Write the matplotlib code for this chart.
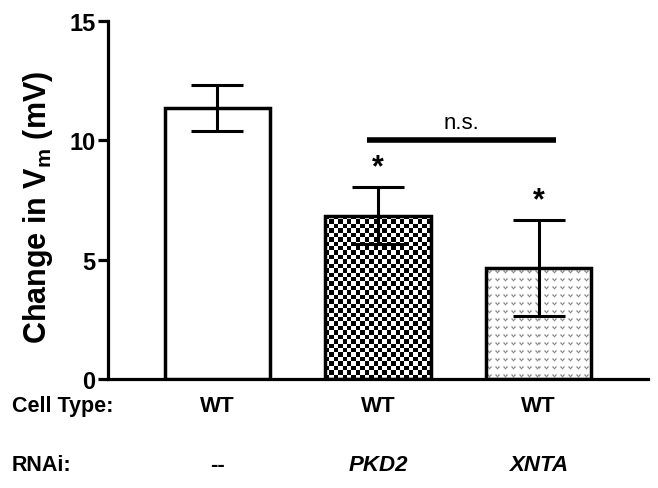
import numpy as np
import matplotlib
matplotlib.use("Agg")
import matplotlib.pyplot as plt
from matplotlib.transforms import blended_transform_factory

plt.rcParams['font.family'] = ['Liberation Sans', 'DejaVu Sans']
plt.rcParams['mathtext.fontset'] = 'custom'
plt.rcParams['mathtext.rm'] = 'Liberation Sans'
plt.rcParams['mathtext.bf'] = 'Liberation Sans:bold'
plt.rcParams['mathtext.it'] = 'Liberation Sans:italic'

# ---- data ----
cell_types = ["WT", "WT", "WT"]
rnai = ["--", "PKD2", "XNTA"]
means = [11.35, 6.85, 4.65]
errors = [0.97, 1.2, 2.02]
yticks = [0, 5, 10, 15]
sig_star = [False, True, True]
ns_pair = (1, 2)
ns_level = 10.0
fills = ['white', 'checker', 'dots']

W, H = 658, 489
fig = plt.figure(figsize=(W / 100, H / 100), dpi=100)
ax = fig.add_axes([108 / W, 1 - 380 / H, (648 - 108) / W, (380 - 22) / H])

x = np.arange(len(means))
ax.set_xlim(-0.68, 2.68)
ax.set_ylim(0, 15)

bars = ax.bar(x, means, width=0.655,
              color=['white' if f == 'white' else 'none' for f in fills],
              edgecolor='black', linewidth=2.5, zorder=3)
ax.errorbar(x, means, yerr=errors, fmt='none', ecolor='black', elinewidth=2.2,
            capsize=19, capthick=2.2, zorder=4)

fig.canvas.draw()


def pattern_fill(patch, kind):
    x0, y0 = patch.get_x(), patch.get_y()
    w, h = patch.get_width(), patch.get_height()
    p0 = ax.transData.transform((x0, y0))
    p1 = ax.transData.transform((x0 + w, y0 + h))
    wpx = int(round(abs(p1[0] - p0[0])))
    hpx = int(round(abs(p1[1] - p0[1])))
    if kind == 'checker':
        cell = 4.4
        nx = max(1, int(round(wpx / cell)))
        ny = max(1, int(round(hpx / cell)))
        jj, ii = np.meshgrid(np.arange(nx), np.arange(ny))
        img = ((ii + jj) % 2).astype(float)  # 1 = white
    else:
        tile = np.array([
            [0, 0, 0, 0, 0, 0, 0, 0],
            [0, 0, 0, 0, 0, 0, 0, 0],
            [0, 1, 1, 0, 1, 1, 0, 0],
            [0, 1, 2, 1, 2, 1, 0, 0],
            [0, 0, 1, 2, 1, 0, 0, 0],
            [0, 0, 0, 1, 0, 0, 0, 0],
            [0, 0, 0, 0, 0, 0, 0, 0],
            [0, 0, 0, 0, 0, 0, 0, 0],
        ], dtype=float)
        reps_y = hpx // 8 + 1
        reps_x = wpx // 8 + 1
        big = np.tile(tile, (reps_y, reps_x))[:hpx, :wpx]
        img = 1.0 - 0.22 * big
    im = ax.imshow(img, cmap='gray', vmin=0, vmax=1, interpolation='nearest',
                   extent=(x0, x0 + w, y0, y0 + h), origin='upper',
                   aspect='auto', zorder=2.5)
    im.set_clip_path(patch)


for b, f in zip(bars, fills):
    if f != 'white':
        pattern_fill(b, f)
ax.set_xlim(-0.68, 2.68)
ax.set_ylim(0, 15)

# significance markers
for xi, m, e, s in zip(x, means, errors, sig_star):
    if s:
        ax.text(xi, m + e + 0.2, "*", ha='center', va='bottom',
                fontsize=22, fontweight='bold', zorder=5)

ax.plot([ns_pair[0] - 0.07, ns_pair[1] + 0.11], [ns_level, ns_level],
        color='black', lw=4, solid_capstyle='butt', zorder=5)
ax.text((ns_pair[0] + ns_pair[1]) / 2 + 0.02, ns_level + 0.3, "n.s.",
        ha='center', va='bottom', fontsize=16, zorder=5)

# axes styling
for sp in ['top', 'right']:
    ax.spines[sp].set_visible(False)
ax.spines['left'].set_linewidth(2.3)
ax.spines['bottom'].set_linewidth(2.3)
ax.set_yticks(yticks)
ax.set_yticklabels([str(t) for t in yticks], fontsize=17, fontweight='bold')
ax.tick_params(axis='y', length=7, width=2.3, pad=2)
ax.set_xticks([])
ax.set_ylabel(r"Change in V$_\mathbf{m}$ (mV)", fontsize=22, fontweight='bold',
              va='center')
ax.yaxis.set_label_coords(-(108 - 38) / (648 - 108), (380 - 207) / (380 - 22))

# category rows under axis
tr = blended_transform_factory(ax.transData, fig.transFigure)
row1_y = 1 - 407 / H
row2_y = 1 - 466 / H
fig.text(12 / W, row1_y, "Cell Type:", ha='left', va='center', fontsize=15.5,
         fontweight='bold')
fig.text(12 / W, row2_y, "RNAi:", ha='left', va='center', fontsize=15.5,
         fontweight='bold')
for xi, ct, rn in zip(x, cell_types, rnai):
    ax.text(xi, row1_y, ct, transform=tr, ha='center', va='center',
            fontsize=16, fontweight='bold')
    style = 'normal' if rn == '--' else 'italic'
    ax.text(xi, row2_y, rn, transform=tr, ha='center', va='center',
            fontsize=16, fontweight='bold', fontstyle=style)

fig.savefig("out.png", dpi=100)
